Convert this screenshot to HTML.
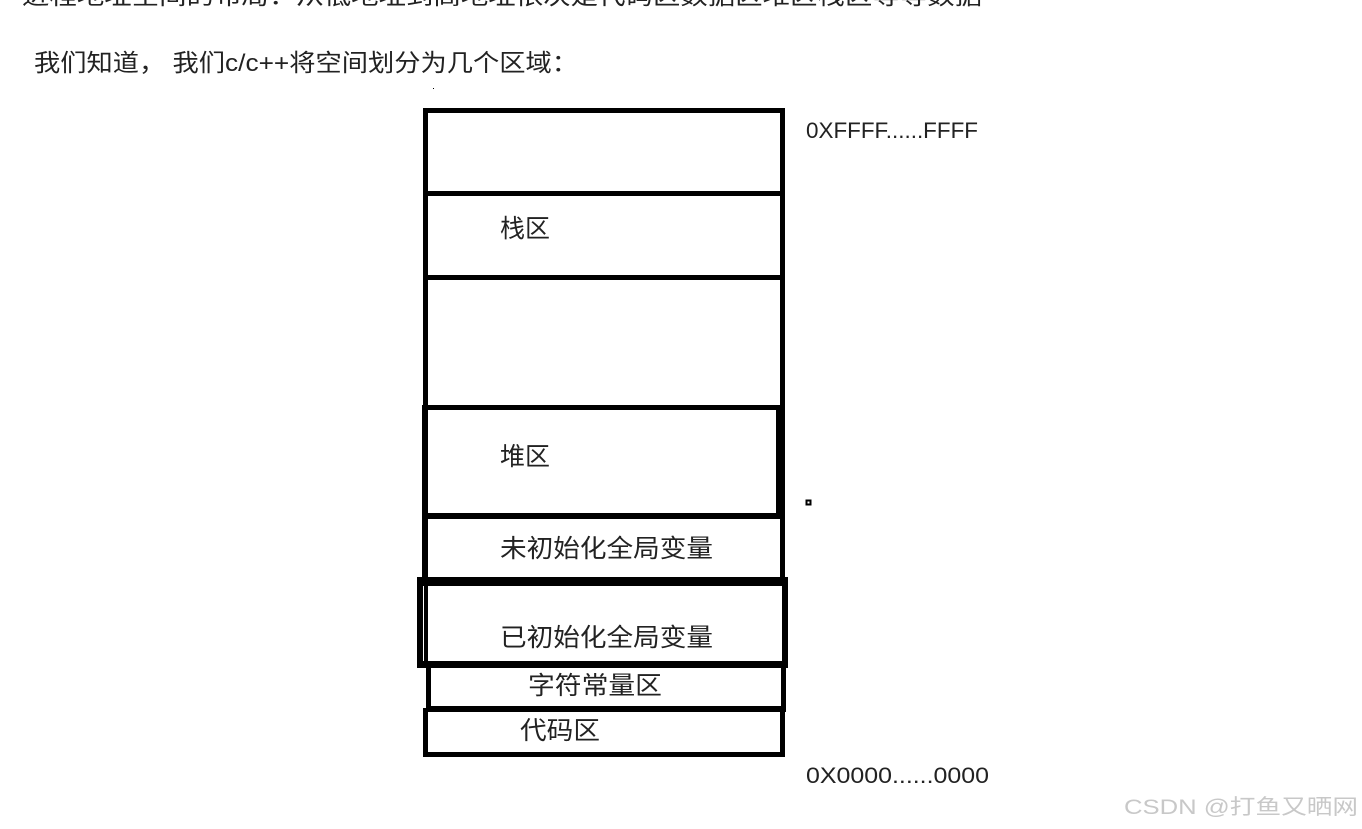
<!DOCTYPE html>
<html><head><meta charset="utf-8"><style>
html,body{margin:0;padding:0;background:#fff;}
svg{display:block;}
text{font-family:"Liberation Sans","Noto Sans CJK SC",sans-serif;fill:#222;}
</style></head><body>
<svg width="1362" height="829" viewBox="0 0 1362 829" xmlns="http://www.w3.org/2000/svg">
<rect width="1362" height="829" fill="#fff"/>
<text x="22" y="4" font-size="24" textLength="960" lengthAdjust="spacingAndGlyphs">进程地址空间的布局：从低地址到高地址依次是代码区数据区堆区栈区等等数据</text>
<text x="34" y="71" font-size="24" textLength="544" lengthAdjust="spacingAndGlyphs">我们知道， 我们c/c++将空间划分为几个区域：</text>
<rect x="433" y="88" width="1" height="1" fill="#000"/>
<g fill="#000">
<!-- top column -->
<rect x="423" y="108" width="5" height="302"/>
<rect x="780" y="108" width="5" height="302"/>
<rect x="423" y="108" width="362" height="5"/>
<rect x="423" y="191" width="362" height="5"/>
<rect x="423" y="275" width="362" height="5"/>
<!-- heap -->
<rect x="422" y="405" width="363" height="5"/>
<rect x="422" y="405" width="6" height="175"/>
<rect x="776" y="405" width="5" height="112"/>
<rect x="780" y="405" width="5" height="175"/>
<rect x="422" y="513" width="363" height="6"/>
<!-- initialized -->
<rect x="417" y="577" width="371" height="9"/>
<rect x="417" y="577" width="6" height="91"/>
<rect x="424" y="577" width="4" height="91"/>
<rect x="782" y="577" width="6" height="91"/>
<rect x="417" y="661" width="371" height="7"/>
<!-- string const -->
<rect x="426" y="665" width="5" height="47"/>
<rect x="781" y="665" width="5" height="47"/>
<rect x="426" y="706" width="360" height="6"/>
<!-- code -->
<rect x="423" y="708" width="5" height="49"/>
<rect x="780" y="708" width="5" height="49"/>
<rect x="423" y="752" width="362" height="5"/>
</g>
<rect x="806.5" y="500.5" width="4" height="4" fill="none" stroke="#000" stroke-width="2"/>
<text x="500" y="237" font-size="25">栈区</text>
<text x="500" y="465" font-size="25">堆区</text>
<text x="500" y="557" font-size="25" textLength="213" lengthAdjust="spacingAndGlyphs">未初始化全局变量</text>
<text x="500" y="646" font-size="25" textLength="213" lengthAdjust="spacingAndGlyphs">已初始化全局变量</text>
<text x="528" y="694" font-size="25" textLength="134" lengthAdjust="spacingAndGlyphs">字符常量区</text>
<text x="520" y="739" font-size="25" textLength="80" lengthAdjust="spacingAndGlyphs">代码区</text>
<text x="806" y="138" font-size="22" textLength="172" lengthAdjust="spacingAndGlyphs">0XFFFF......FFFF</text>
<text x="806" y="783" font-size="22" textLength="183" lengthAdjust="spacingAndGlyphs">0X0000......0000</text>
<text x="1124" y="814" font-size="21" style="fill:#c8c8c8" textLength="234" lengthAdjust="spacingAndGlyphs">CSDN @打鱼又晒网</text>
</svg>
</body></html>
